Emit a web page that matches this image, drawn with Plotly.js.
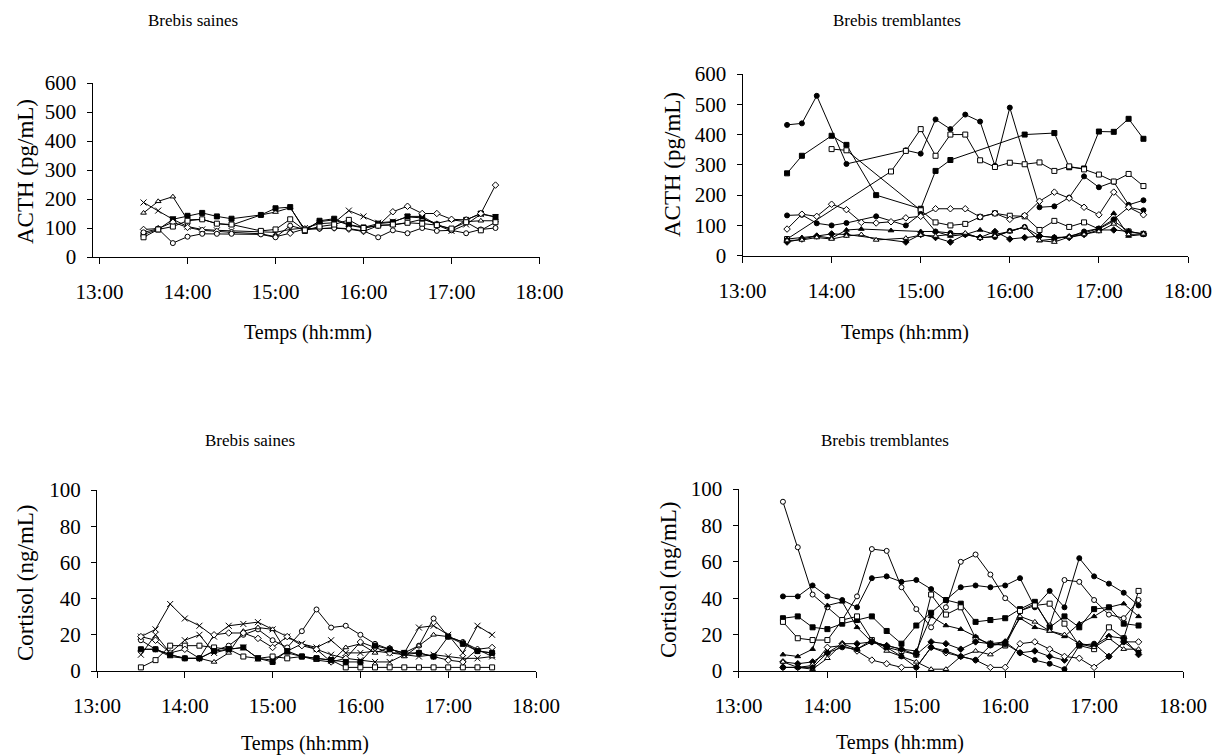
<!DOCTYPE html>
<html><head><meta charset="utf-8">
<script src="https://cdn.plot.ly/plotly-3.0.1.min.js"></script>
<style>html,body{margin:0;padding:0;background:#fff}#chart{width:1214px;height:755px}</style>
</head><body><div id="chart"></div>
<script>
// ---------- DATA ----------
const xTickVals = [13, 14, 15, 16, 17, 18];
const xTickText = ["13:00", "14:00", "15:00", "16:00", "17:00", "18:00"];

const timesAll = ["13:30","13:40","13:50","14:00","14:10","14:20","14:30","14:40","14:50","15:00","15:10","15:20","15:30","15:40","15:50","16:00","16:10","16:20","16:30","16:40","16:50","17:00","17:10","17:20","17:30"];
const timesSaines = ["13:30","13:40","13:50","14:00","14:10","14:20","14:30","14:50","15:00","15:10","15:20","15:30","15:40","15:50","16:00","16:10","16:20","16:30","16:40","16:50","17:00","17:10","17:20","17:30"];

// ACTH - Brebis saines (pg/mL)
const acthS1 = [188,160,130,105,95,92,90,85,85,95,100,115,118,160,140,118,122,138,135,110,90,112,148,138];
const acthS2 = [152,192,208,128,130,115,110,145,155,170,95,122,128,110,100,110,110,118,130,116,128,122,125,125];
const acthS3 = [78,95,130,142,152,140,132,145,168,172,90,125,132,112,102,115,120,140,140,112,95,128,150,138];
const acthS4 = [95,98,120,102,92,88,85,80,70,82,97,98,100,96,88,108,156,175,150,150,130,128,150,248];
const acthS5 = [85,97,48,70,80,80,80,78,68,108,95,98,100,98,90,68,92,82,100,90,92,82,95,100];
const acthS6 = [68,95,105,125,130,115,112,90,95,130,92,105,112,128,100,108,112,118,115,110,98,120,92,120];

// ACTH - Brebis tremblantes (pg/mL)
const acthT1 = [432,437,528,null,303,null,null,null,348,337,450,418,466,443,297,489,null,160,163,192,262,226,244,168,183];
const acthT2 = [272,330,null,396,366,null,200,null,null,155,280,316,null,null,null,null,400,null,405,292,288,410,409,452,386];
const acthT3 = [55,null,null,null,null,null,null,278,346,418,330,400,400,315,293,307,302,308,280,295,285,268,245,270,230];
const acthT4 = [null,null,null,352,348,null,null,null,null,150,110,100,105,128,140,132,130,85,115,95,110,88,115,80,72];
const acthT5 = [133,135,107,100,108,null,130,null,100,138,80,75,70,60,62,82,95,65,60,62,80,90,120,160,150];
const acthT6 = [88,137,130,170,152,110,108,112,125,130,155,155,155,128,140,120,133,180,210,190,160,135,210,160,135];
const acthT7 = [55,60,65,58,85,88,null,83,null,80,80,65,70,85,70,80,95,50,55,65,75,90,140,65,70];
const acthT8 = [45,55,65,72,70,null,null,null,45,70,60,45,70,60,80,55,60,65,60,60,70,85,85,80,72];
const acthT9 = [50,52,60,55,65,70,52,null,58,68,65,70,75,58,65,80,95,50,45,62,70,80,105,70,72];

// Cortisol - Brebis saines (ng/mL)
const cortS1 = [19,23,37,29,25,19,25,26,27,23,19,15,12,9,7,6,5,5,9,8,9,8,7,7,8];
const cortS2 = [17,12,9,7,7,11,14,20,23,17,13,22,34,24,25,20,15,12,10,14,29,19,16,11,10];
const cortS3 = [2,6,14,14,14,13,12,8,7,8,7,8,7,6,2,2,2,2,2,2,2,2,2,2,2];
const cortS4 = [9,20,10,17,20,10,12,13,7,6,11,15,13,17,10,10,11,10,10,24,25,20,10,25,20];
const cortS5 = [12,12,8,7,7,5,10,22,24,23,10,8,6,5,13,15,10,13,8,14,20,19,16,12,8];
const cortS6 = [19,17,10,12,7,20,21,21,18,13,19,14,12,5,7,16,13,10,9,10,8,6,5,12,13];
const cortS7 = [12,12,9,7,7,11,12,13,7,5,11,8,7,6,5,5,14,12,10,10,8,19,15,11,10];

// Cortisol - Brebis tremblantes (ng/mL)
const cortT1 = [93,68,42,35,28,41,67,66,46,34,24,35,60,64,53,40,33,37,25,50,49,39,31,29,39];
const cortT2 = [41,41,47,41,39,35,51,52,49,50,45,39,46,47,46,47,51,35,44,35,62,52,48,43,36];
const cortT3 = [29,30,24,23,26,28,30,22,15,25,32,39,37,27,28,29,34,38,24,30,24,34,35,26,25];
const cortT4 = [27,18,17,17,28,30,17,13,11,9,42,31,35,18,15,14,33,36,37,26,14,12,24,18,44];
const cortT5 = [9,8,12,36,38,24,16,14,12,11,30,25,23,19,14,16,29,24,22,19,26,30,35,37,30];
const cortT6 = [5,4,5,10,15,15,16,14,12,9,16,15,12,16,15,16,10,11,8,6,15,14,19,18,9];
const cortT7 = [5,2,1,7,15,12,17,11,8,5,1,1,8,11,9,14,30,27,22,20,15,13,18,12,12];
const cortT8 = [2,2,3,13,14,11,6,4,2,2,13,10,8,6,2,2,15,16,12,8,7,2,8,16,16];
const cortT9 = [2,2,2,10,13,12,16,13,8,2,13,11,8,6,14,15,10,6,4,1,14,15,8,16,10];

// ---------- BUILD ----------
const toH = s => { const [h, m] = s.split(":").map(Number); return h + m / 60; };
const W = 1214, H = 755;
const px = x => x / W, py = y => 1 - y / H;

// style: [symbol, filled?]
function mk(times, vals, st, xa, ya) {
  const sym = st[0], filled = st[1];
  const isX = sym === "x-thin";
  return {
    x: times.map(toH), y: vals, xaxis: xa, yaxis: ya, type: "scatter", mode: "lines+markers",
    connectgaps: true, hoverinfo: "skip",
    line: { color: "#000", width: 1 },
    marker: { symbol: sym, size: isX ? 6 : 5, color: filled ? "#000" : "#fff",
              line: { color: "#000", width: 1 } },
    showlegend: false
  };
}
const traces = [];
[[acthS1,["x-thin",1]],[acthS2,["triangle-up",0]],[acthS3,["square",1]],[acthS4,["diamond",0]],[acthS5,["circle",0]],[acthS6,["square",0]]]
  .forEach(([v,s]) => traces.push(mk(timesSaines, v, s, "x", "y")));
[[acthT1,["circle",1]],[acthT2,["square",1]],[acthT3,["square",0]],[acthT4,["square",0]],[acthT5,["circle",1]],[acthT6,["diamond",0]],[acthT7,["triangle-up",1]],[acthT8,["diamond",1]],[acthT9,["triangle-up",0]]]
  .forEach(([v,s]) => traces.push(mk(timesAll, v, s, "x2", "y2")));
[[cortS1,["x-thin",1]],[cortS2,["circle",0]],[cortS3,["square",0]],[cortS4,["x-thin",1]],[cortS5,["triangle-up",0]],[cortS6,["diamond",0]],[cortS7,["square",1]]]
  .forEach(([v,s]) => traces.push(mk(timesAll, v, s, "x3", "y3")));
[[cortT1,["circle",0]],[cortT2,["circle",1]],[cortT3,["square",1]],[cortT4,["square",0]],[cortT5,["triangle-up",1]],[cortT6,["diamond",1]],[cortT7,["triangle-up",0]],[cortT8,["diamond",0]],[cortT9,["circle",1]]]
  .forEach(([v,s]) => traces.push(mk(timesAll, v, s, "x4", "y4")));

const FONT = "Liberation Serif, serif";
function xax(x0, x1, rmin, anchor) {
  return { domain: [px(x0), px(x1)], range: [rmin, 18], anchor: anchor, tickmode: "array",
    tickvals: xTickVals, ticktext: xTickText, ticks: "outside", ticklen: 6, tickwidth: 1, tickcolor: "#000",
    ticklabelstandoff: 10,
    showline: true, linecolor: "#000", linewidth: 1, showgrid: false, zeroline: false,
    tickfont: { family: FONT, size: 21, color: "#000" }, fixedrange: true };
}
function yax(yTop, yBot, rmax, dtick, anchor) {
  return { domain: [py(yBot), py(yTop)], range: [0, rmax], anchor: anchor, dtick: dtick, tick0: 0,
    ticks: "outside", ticklen: 5, tickwidth: 1, tickcolor: "#000", ticklabelstandoff: 6,
    showline: true, linecolor: "#000", linewidth: 1, showgrid: false, zeroline: false,
    tickfont: { family: FONT, size: 21, color: "#000" }, fixedrange: true };
}
function ann(text, x, y, size, angle) {
  return { text: text, xref: "paper", yref: "paper", x: px(x), y: py(y), showarrow: false,
    xanchor: "center", yanchor: "middle", textangle: angle || 0,
    font: { family: FONT, size: size, color: "#000" } };
}

const layout = {
  width: W, height: H, margin: { l: 0, r: 0, t: 0, b: 0 },
  paper_bgcolor: "#fff", plot_bgcolor: "#fff", showlegend: false,
  xaxis: xax(92.5, 539.5, 12.92, "y"),  yaxis: yax(83, 257, 600, 100, "x"),
  xaxis2: xax(742.5, 1188, 13, "y2"),  yaxis2: yax(74, 255.7, 600, 100, "x2"),
  xaxis3: xax(97, 536, 13, "y3"),      yaxis3: yax(490, 671, 100, 20, "x3"),
  xaxis4: xax(738.5, 1183, 13, "y4"),  yaxis4: yax(489, 671, 100, 20, "x4"),
  annotations: [
    ann("Brebis saines", 193, 21, 17),
    ann("Brebis tremblantes", 897, 21, 17),
    ann("Brebis saines", 250, 440, 17),
    ann("Brebis tremblantes", 885, 440, 17),
    ann("Temps (hh:mm)", 308, 333, 20),
    ann("Temps (hh:mm)", 905, 333, 20),
    ann("Temps (hh:mm)", 305, 743, 20),
    ann("Temps (hh:mm)", 900, 742, 20),
    ann("ACTH (pg/mL)", 25, 172, 23, -90),
    ann("ACTH (pg/mL)", 672, 165, 23, -90),
    ann("Cortisol (ng/mL)", 25, 583, 23, -90),
    ann("Cortisol (ng/mL)", 668, 580, 23, -90)
  ]
};
Plotly.newPlot("chart", traces, layout, { staticPlot: true, displayModeBar: false });
</script></body></html>
